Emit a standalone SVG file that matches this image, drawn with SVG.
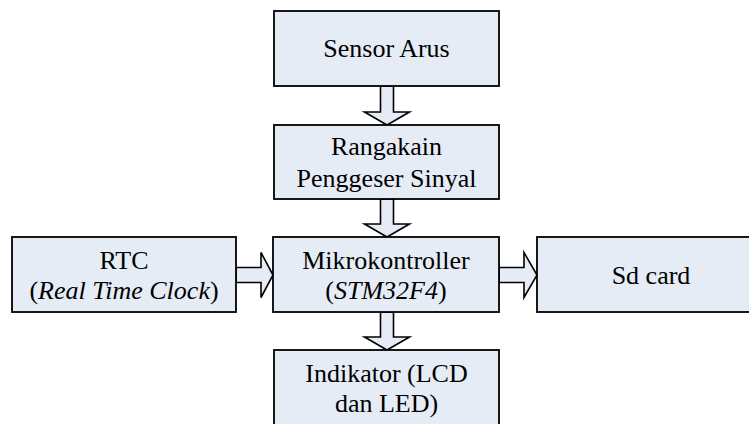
<svg xmlns="http://www.w3.org/2000/svg" width="749" height="424" viewBox="0 0 749 424">
  <style>
    .box { fill: #E6ECF6; stroke: #000; stroke-width: 1.8; }
    .arrow { fill: #E6ECF6; stroke: #000; stroke-width: 1.6; stroke-linejoin: miter; }
    text { font-family: "Liberation Serif", "Times New Roman", serif; font-size: 26px; fill: #000; text-anchor: middle; }
    .it { font-style: italic; }
  </style>
  <rect width="749" height="424" fill="#fff"/>

  <g id="connectors">
    <!-- Sensor Arus -> Rangakain -->
    <path class="arrow" d="M380.5,86 H393.5 V112 H409.5 L387,125 L364.5,112 H380.5 Z"/>
    <!-- Rangakain -> Mikrokontroller -->
    <path class="arrow" d="M380.5,199 H393.5 V224 H409.5 L387,237 L364.5,224 H380.5 Z"/>
    <!-- Mikrokontroller -> Indikator -->
    <path class="arrow" d="M380.5,312 H393.5 V337 H409.5 L387,350 L364.5,337 H380.5 Z"/>
    <!-- RTC -> Mikrokontroller -->
    <path class="arrow" d="M236,267.5 H261 V252.5 L273,275 L261,297.5 V282.5 H236 Z"/>
    <!-- Mikrokontroller -> Sd card -->
    <path class="arrow" d="M499,267.5 H524 V252.5 L537,275 L524,297.5 V282.5 H499 Z"/>
  </g>

  <g id="sensor-arus">
    <rect class="box" x="274" y="11" width="225" height="75"/>
    <text x="386.5" y="57">Sensor Arus</text>
  </g>

  <g id="rangakain">
    <rect class="box" x="274" y="125" width="225" height="74"/>
    <text x="386.5" y="155">Rangakain</text>
    <text x="386.5" y="186.5">Penggeser Sinyal</text>
  </g>

  <g id="rtc">
    <rect class="box" x="12" y="237" width="224" height="75"/>
    <text x="124" y="268.5">RTC</text>
    <text x="124" y="298.5">(<tspan class="it">Real Time Clock</tspan>)</text>
  </g>

  <g id="mikrokontroller">
    <rect class="box" x="273" y="237" width="226" height="75"/>
    <text x="386" y="268.5">Mikrokontroller</text>
    <text x="386" y="298.5">(<tspan class="it">STM32F4</tspan>)</text>
  </g>

  <g id="sd-card">
    <rect class="box" x="537" y="237" width="228" height="75"/>
    <text x="651" y="284">Sd card</text>
  </g>

  <g id="indikator">
    <rect class="box" x="274" y="350" width="225" height="80"/>
    <text x="386.5" y="381.5">Indikator (LCD</text>
    <text x="386.5" y="411.5">dan LED)</text>
  </g>
</svg>
